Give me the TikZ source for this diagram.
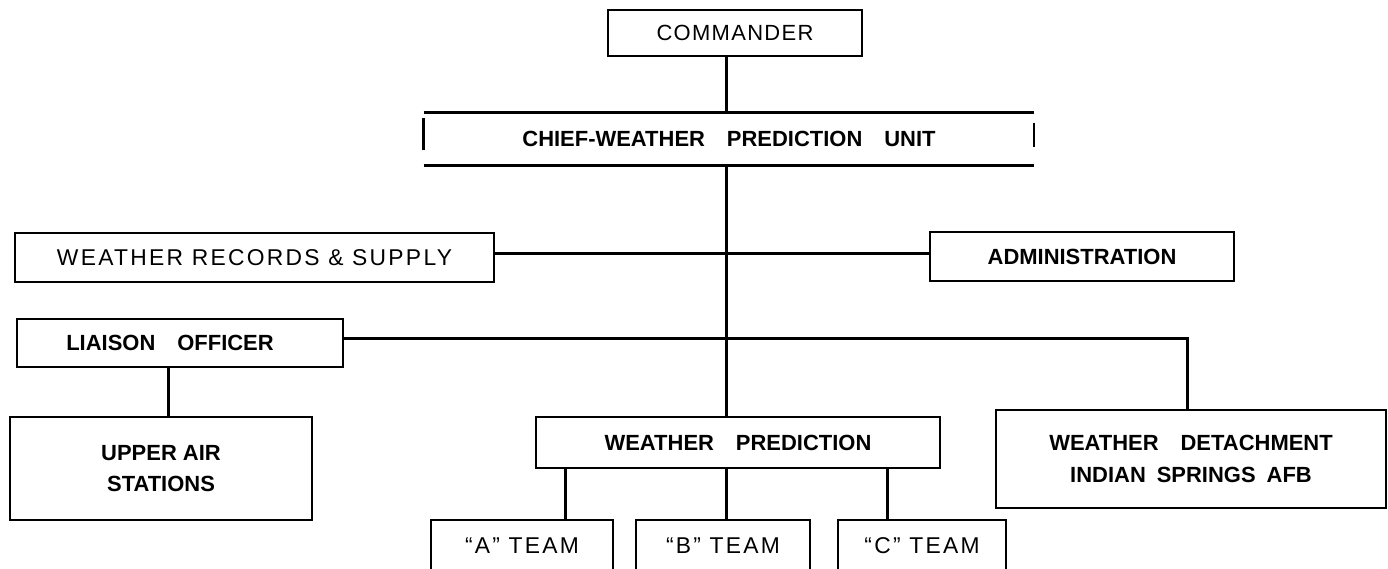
\documentclass[tikz,border=0pt]{standalone}
\usepackage{fontspec}
\setmainfont{Liberation Sans}
\newfontfamily\typefont[LetterSpace=6]{Liberation Sans}
\newfontfamily\widefont[LetterSpace=10]{Liberation Sans}
\usetikzlibrary{positioning,calc}

\begin{document}
\begin{tikzpicture}[
  x=0.02cm, y=-0.02cm,
  every node/.style={rectangle,align=center,inner sep=0pt,font=\bfseries\fontsize{12.5}{18}\selectfont},
  box/.style={draw,line width=1.4pt},
  typed/.style={font=\typefont\fontsize{12.5}{15}\selectfont},
  teamtyped/.style={font=\widefont\fontsize{13}{15}\selectfont},
  link/.style={line width=1.7pt}
]
  \useasboundingbox (0,0) rectangle (1388,568);
  \clip (0,0) rectangle (1388,568);

  \node (cmdr) [box,typed,minimum width=5.08cm,minimum height=0.92cm] at (735,33) {COMMANDER};
  \node (chief) [minimum width=12.2cm,minimum height=1.04cm] at (729,139) {CHIEF-WEATHER\quad PREDICTION\quad UNIT};
  \node (records) [box,teamtyped,minimum width=9.58cm,minimum height=0.98cm] at (254.5,257.5) {WEATHER RECORDS \& SUPPLY};
  \node (admin) [box,minimum width=6.08cm,minimum height=0.98cm] at (1082,256.5) {ADMINISTRATION};
  \node (liaison) [box,minimum width=6.52cm,minimum height=0.96cm] at (180,343) {LIAISON\quad OFFICER\hspace*{0.4cm}};
  \node (upperair) [box,minimum width=6.04cm,minimum height=2.06cm] at (161,468.5) {UPPER AIR\\STATIONS};
  \node (predict) [box,minimum width=8.08cm,minimum height=1.02cm] at (738,442.5) {WEATHER\quad PREDICTION};
  \node (detach) [box,minimum width=7.8cm,minimum height=1.96cm] at (1191,459) {WEATHER\quad DETACHMENT\\INDIAN\enspace SPRINGS\enspace AFB};
  \node (teamA) [box,teamtyped,minimum width=3.64cm,minimum height=1.04cm] at (522,546) {“A” TEAM};
  \node (teamB) [box,teamtyped,minimum width=3.48cm,minimum height=1.04cm] at (723,546) {“B” TEAM};
  \node (teamC) [box,teamtyped,minimum width=3.36cm,minimum height=1.04cm] at (922,546) {“C” TEAM};

  % open-sided frame of the chief box
  \draw[line width=1.4pt] (chief.north west) -- (chief.north east) (chief.south west) -- (chief.south east);
  \draw[line width=1.4pt] (chief.north west) ++(0,5) -- ++(0,32);
  \draw[line width=1pt] (chief.north east) ++(0,10) -- ++(0,24);

  \coordinate (spine) at (726,0);
  \draw[link] (spine |- cmdr.south) -- (spine |- chief.north);
  \draw[link] (spine |- chief.south) -- (spine |- predict.north);
  \draw[link] ([yshift=2.5pt]records.east) -- ([yshift=2.5pt]records.east -| admin.west);
  \draw[link] ([yshift=2.3pt]liaison.east) -| ([xshift=-2pt]detach.north);
  \draw[link] (liaison.south -| 168.3,0) -- (upperair.north -| 168.3,0);
  \foreach \t/\x in {teamA/565,teamB/726,teamC/887}
    \draw[link] (\x,0 |- predict.south) -- (\x,0 |- \t.north);
\end{tikzpicture}
\end{document}
